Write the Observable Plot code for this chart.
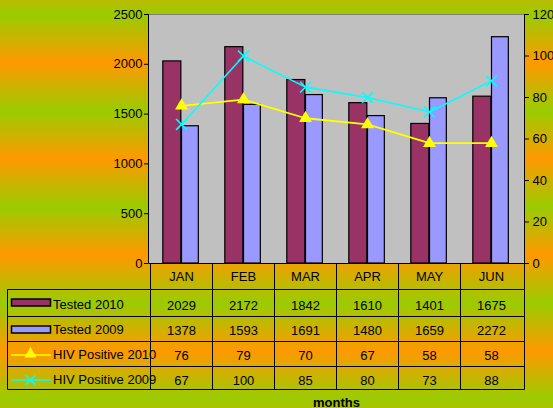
<!DOCTYPE html>
<html><head><meta charset="utf-8">
<script src="https://cdn.jsdelivr.net/npm/d3@7"></script>
<script src="https://cdn.jsdelivr.net/npm/@observablehq/plot@0.6"></script>
<style>
html,body{margin:0;padding:0;}
body{width:553px;height:408px;overflow:hidden;}
#chart svg{display:block;}
</style></head><body><div id="chart"></div>
<script>
const months = ["JAN","FEB","MAR","APR","MAY","JUN"];
const tested2010 = [2029,2172,1842,1610,1401,1675];
const tested2009 = [1378,1593,1691,1480,1659,2272];
const hiv2010 = [76,79,70,67,58,58];
const hiv2009 = [67,100,85,80,73,88];
const leftTicks = [0,500,1000,1500,2000,2500];
const rightTicks = [0,20,40,60,80,100,120];
const seriesNames = ["Tested 2010","Tested 2009","HIV Positive 2010","HIV Positive 2009"];
const axisTitle = "months";

const Y_MAX = 2500, Y2_MAX = 120;
const toLeft = v => v * Y_MAX / Y2_MAX;
const FONT = "'Liberation Sans', Arial, sans-serif";
const C = {t10:"#993366", t09:"#9999FF", h10:"#FFFF00", h09:"#00FFFF"};

const rows = months.map((m,i)=>({month:m, t10:tested2010[i], t09:tested2009[i], h10:hiv2010[i], h09:hiv2009[i]}));

// table row geometry (offsets below the x axis)
const rowLines = [26, 53, 78, 103, 126];
const rowBase = [46, 71, 96, 121];

function tableMark(index, scales, values, dims) {
  const {width, height, marginLeft, marginRight, marginTop, marginBottom} = dims;
  const x = scales.x;
  const x0 = marginLeft + 0.5, x1 = width - marginRight + 0.5, yb = height - marginBottom + 0.5;
  const legendLeft = 7.5;
  const g = d3.create("svg:g");
  const line = (ax,ay,bx,by,col="#000",w=1) => g.append("line").attr("x1",ax).attr("y1",ay).attr("x2",bx).attr("y2",by).attr("stroke",col).attr("stroke-width",w);
  const bottom = yb + rowLines[rowLines.length-1];
  rowLines.forEach(o => line(legendLeft, yb + o, x1, yb + o));
  line(x0, yb, x1, yb);
  line(legendLeft, yb + rowLines[0], legendLeft, bottom);
  months.forEach(m => { line(Math.round(x(m)) + 0.5, yb, Math.round(x(m)) + 0.5, bottom); });
  line(x0, marginTop, x0, yb);
  line(x1, marginTop, x1, bottom);
  const rowMid = i => yb + (rowLines[i] + rowLines[i+1]) / 2;
  g.append("rect").attr("x", 11.5).attr("y", rowMid(0) - 4).attr("width", 39).attr("height", 7)
    .attr("fill", C.t10).attr("stroke", "#000").attr("stroke-width", 1.5);
  g.append("rect").attr("x", 11.5).attr("y", rowMid(1) - 3).attr("width", 39).attr("height", 7)
    .attr("fill", C.t09).attr("stroke", "#000").attr("stroke-width", 1.5);
  const ly3 = rowMid(2) + 1, ly4 = rowMid(3) + 2;
  line(11, ly3, 51, ly3, C.h10, 1.5);
  g.append("path").attr("d", d3.symbol(d3.symbolTriangle, 64)()).attr("transform", `translate(30.5,${ly3 - 1})`).attr("fill", C.h10);
  line(11, ly4, 51, ly4, C.h09, 1.5);
  g.append("path").attr("d", d3.symbol(d3.symbolTimes, 64)()).attr("transform", `translate(30.5,${ly4})`).attr("fill", "none").attr("stroke", C.h09).attr("stroke-width", 1.5);
  seriesNames.forEach((s, i) => {
    g.append("text").attr("x", 53).attr("y", yb - 0.5 + rowBase[i]).text(s)
      .attr("text-anchor", "start")
      .attr("font-family", FONT).attr("font-size", 13).attr("fill", "#000");
  });
  return g.node();
}

function frameTop(index, scales, values, dims) {
  const {width, marginLeft, marginRight, marginTop} = dims;
  const g = d3.create("svg:g");
  g.append("line").attr("x1", marginLeft).attr("x2", width - marginRight).attr("y1", marginTop + 0.5).attr("y2", marginTop + 0.5)
    .attr("stroke", "#808080").attr("stroke-width", 1);
  return g.node();
}

const bw = 376 / 6;
const cellText = (key, row) => Plot.text(rows, {x: "month", text: d => String(d[key]), frameAnchor: "bottom", dy: rowBase[row], lineAnchor: "bottom", fontSize: 13, fill: "#000"});

const chart = Plot.plot({
  width: 553, height: 408,
  marginLeft: 148, marginRight: 29, marginTop: 14, marginBottom: 145,
  style: {background: "repeating-linear-gradient(to bottom, #99CC00 15px, #FF9900 63px, #99CC00 111px)", fontFamily: FONT, fontSize: "13px", color: "#000"},
  x: {type: "band", domain: months, padding: 0, axis: null},
  y: {domain: [0, Y_MAX], axis: null},
  marks: [
    Plot.frame({fill: "#C0C0C0", stroke: null}),
    frameTop,
    Plot.barY(rows, {x: "month", y: "t10", fill: C.t10, stroke: "#000", strokeWidth: 1.2, insetLeft: 12.8, insetRight: bw - 31.5}),
    Plot.barY(rows, {x: "month", y: "t09", fill: C.t09, stroke: "#000", strokeWidth: 1.2, insetLeft: 31.5, insetRight: bw - 49}),
    Plot.line(rows, {x: "month", y: d => toLeft(d.h10), stroke: C.h10, strokeWidth: 1.8}),
    Plot.dot(rows, {x: "month", y: d => toLeft(d.h10), symbol: "triangle", r: 4.8, fill: C.h10, stroke: null}),
    Plot.line(rows, {x: "month", y: d => toLeft(d.h09), stroke: C.h09, strokeWidth: 1.6}),
    Plot.dot(rows, {x: "month", y: d => toLeft(d.h09), symbol: "times", r: 5, stroke: C.h09, strokeWidth: 1.6}),
    Plot.axisY(leftTicks, {anchor: "left", tickSize: 4, tickPadding: 2, fontSize: 13, label: null, tickFormat: d => String(d)}),
    Plot.axisY(rightTicks.map(toLeft), {anchor: "right", tickSize: 4, tickPadding: 4, fontSize: 13, label: null, tickFormat: d => String(Math.round(d * Y2_MAX / Y_MAX))}),
    tableMark,
    Plot.text(months, {x: d => d, text: d => d, frameAnchor: "bottom", dy: 17.7, lineAnchor: "bottom", fontSize: 13, fill: "#000"}),
    cellText("t10", 0), cellText("t09", 1), cellText("h10", 2), cellText("h09", 3),
    Plot.text([axisTitle], {text: d => d, frameAnchor: "bottom", dy: 143, lineAnchor: "bottom", fontSize: 13, fontWeight: "bold", fill: "#000"})
  ]
});
document.getElementById("chart").appendChild(chart);
</script></body></html>
